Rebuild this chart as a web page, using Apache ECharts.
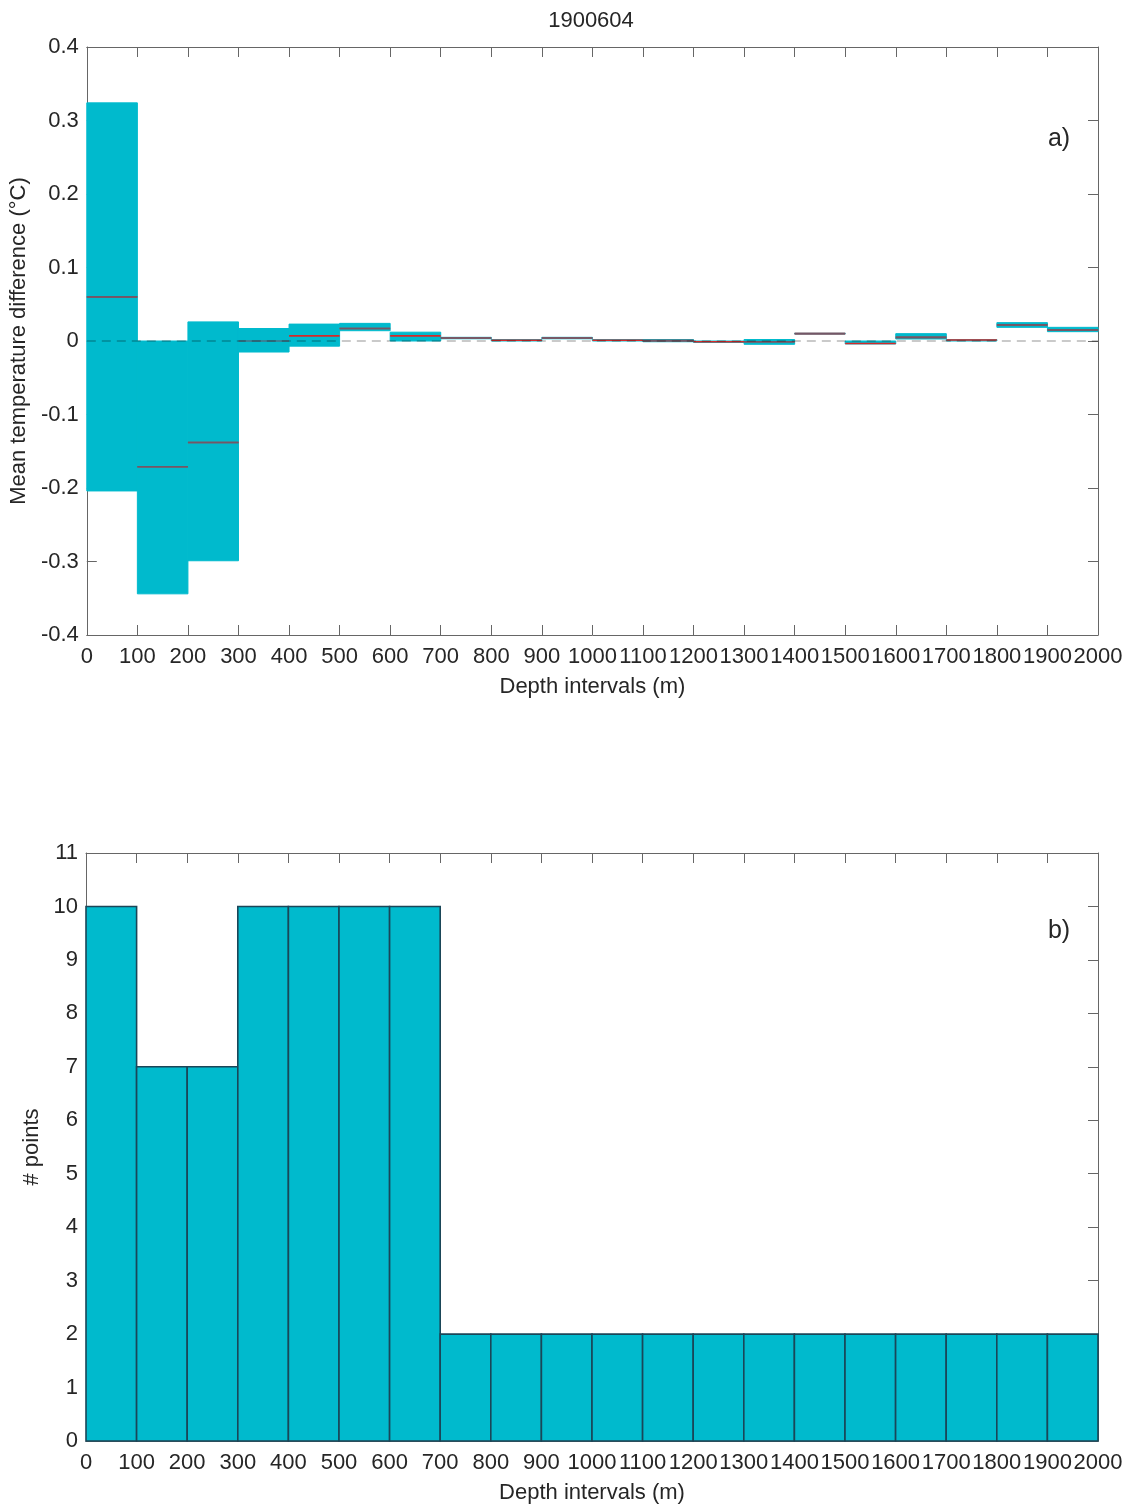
<!DOCTYPE html>
<html>
<head>
<meta charset="utf-8">
<title>1900604</title>
<script src="https://cdn.jsdelivr.net/npm/echarts@6/dist/echarts.min.js"></script>
<style>
  html, body { margin: 0; padding: 0; background: #fff; }
  #chart { width: 1132px; height: 1505px; }
</style>
</head>
<body>
<div id="chart"></div>
<script>
// Depth bin edges (m)
const depthEdges = [0, 100, 200, 300, 400, 500, 600, 700, 800, 900, 1000,
                    1100, 1200, 1300, 1400, 1500, 1600, 1700, 1800, 1900, 2000];

// Temperature difference per depth bin (°C): band bottom / top
const diffLow  = [-0.204, -0.344, -0.299, -0.015, -0.007, 0.014, 0.000, 0.003, 0.000, 0.003,
                   0.000, -0.001, -0.002, -0.0045, 0.0095, -0.004, 0.0027, 0.000, 0.0186, 0.0127];
const diffHigh = [ 0.324,  0.000,  0.026,  0.017,  0.023, 0.024, 0.012, 0.005, 0.002, 0.005,
                   0.002,  0.002,  0.000,  0.002,  0.0105, 0.000, 0.010, 0.002, 0.025, 0.0186];
// Mean difference (red) and median difference (dark) per bin
const diffMean   = [0.060, -0.171, -0.138, null, 0.007, 0.017, 0.007, 0.004, 0.001, 0.004,
                    0.001, 0.0005, -0.001, -0.001, 0.010, -0.0035, 0.005, 0.0013, 0.022, 0.015];
const diffMedian = [0.060, -0.171, -0.138, 0.000, null, 0.017, null, 0.004, null, 0.004,
                    null, 0.0005, null, -0.001, 0.010, null, 0.005, null, 0.022, 0.015];

// Number of points per depth bin
const pointCounts = [10, 7, 7, 10, 10, 10, 10, 2, 2, 2, 2, 2, 2, 2, 2, 2, 2, 2, 2, 2];

const FONT = '"Liberation Sans", Arial, sans-serif';
const TXT = '#262626';
const AX = '#666666';
const CYAN = '#00BACD';

const bandData = diffLow.map((lo, i) => [depthEdges[i], depthEdges[i + 1], lo, diffHigh[i]]);
const meanData = diffMean.map((m, i) => [depthEdges[i], depthEdges[i + 1], m])
                         .filter(d => d[2] !== null);
const medianData = diffMedian.map((m, i) => [depthEdges[i], depthEdges[i + 1], m])
                             .filter(d => d[2] !== null);
const countData = pointCounts.map((c, i) => [depthEdges[i], depthEdges[i + 1], 0, c]);

function rectItem(fill, stroke, lw) {
  return function (params, api) {
    const p0 = api.coord([api.value(0), api.value(3)]);
    const p1 = api.coord([api.value(1), api.value(2)]);
    return {
      type: 'rect',
      shape: { x: p0[0], y: p0[1], width: p1[0] - p0[0], height: p1[1] - p0[1] },
      style: { fill: fill, stroke: stroke, lineWidth: lw }
    };
  };
}

function segItem(color, lw, opacity) {
  return function (params, api) {
    const p0 = api.coord([api.value(0), api.value(2)]);
    const p1 = api.coord([api.value(1), api.value(2)]);
    return {
      type: 'line',
      shape: { x1: p0[0], y1: p0[1], x2: p1[0], y2: p1[1] },
      style: { stroke: color, lineWidth: lw, opacity: opacity }
    };
  };
}

function xAxisMain(gridIndex) {
  return {
    gridIndex: gridIndex, type: 'value', min: 0, max: 2000, interval: 100, position: 'bottom',
    axisLine: { show: true, onZero: false, lineStyle: { color: AX, width: 1 } },
    axisTick: { show: true, inside: true, length: 10, lineStyle: { color: AX } },
    axisLabel: {
      color: TXT, fontSize: 22, fontFamily: FONT, margin: 11,
      showMinLabel: true, showMaxLabel: true, hideOverlap: false,
      formatter: v => String(Math.round(v))
    },
    splitLine: { show: false },
    name: 'Depth intervals (m)', nameLocation: 'middle', nameGap: 41,
    nameTextStyle: { color: TXT, fontSize: 22, fontFamily: FONT }
  };
}
function xAxisTop(gridIndex) {
  return {
    gridIndex: gridIndex, type: 'value', min: 0, max: 2000, interval: 100, position: 'top',
    axisLine: { show: true, onZero: false, lineStyle: { color: AX, width: 1 } },
    axisTick: { show: true, inside: true, length: 10, lineStyle: { color: AX } },
    axisLabel: { show: false }, splitLine: { show: false }
  };
}
function yAxisRight(gridIndex, min, max, interval) {
  return {
    gridIndex: gridIndex, type: 'value', min: min, max: max, interval: interval, position: 'right',
    axisLine: { show: true, onZero: false, lineStyle: { color: AX, width: 1 } },
    axisTick: { show: true, inside: true, length: 10, lineStyle: { color: AX } },
    axisLabel: { show: false }, splitLine: { show: false }
  };
}

const option = {
  animation: false,
  backgroundColor: '#ffffff',
  grid: [
    { left: 86, top: 47, width: 1012, height: 588 },
    { left: 86, top: 853, width: 1012, height: 588 }
  ],
  xAxis: [xAxisMain(0), xAxisTop(0), xAxisMain(1), xAxisTop(1)],
  yAxis: [
    {
      gridIndex: 0, type: 'value', min: -0.4, max: 0.4, interval: 0.1, position: 'left',
      axisLine: { show: true, onZero: false, lineStyle: { color: AX, width: 1 } },
      axisTick: { show: true, inside: true, length: 10, lineStyle: { color: AX } },
      axisLabel: {
        color: TXT, fontSize: 22, fontFamily: FONT, margin: 8,
        showMinLabel: true, showMaxLabel: true,
        formatter: v => { const r = Math.round(v * 10) / 10; return r === 0 ? '0' : r.toFixed(1); }
      },
      splitLine: { show: false },
      name: 'Mean temperature difference (°C)', nameLocation: 'middle', nameGap: 55,
      nameTextStyle: { color: TXT, fontSize: 22, fontFamily: FONT }
    },
    yAxisRight(0, -0.4, 0.4, 0.1),
    {
      gridIndex: 1, type: 'value', min: 0, max: 11, interval: 1, position: 'left',
      axisLine: { show: true, onZero: false, lineStyle: { color: AX, width: 1 } },
      axisTick: { show: true, inside: true, length: 10, lineStyle: { color: AX } },
      axisLabel: { color: TXT, fontSize: 22, fontFamily: FONT, margin: 8, showMinLabel: true, showMaxLabel: true },
      splitLine: { show: false },
      name: '# points', nameLocation: 'middle', nameGap: 40,
      nameTextStyle: { color: TXT, fontSize: 22, fontFamily: FONT }
    },
    yAxisRight(1, 0, 11, 1)
  ],
  graphic: [
    { type: 'text', x: 591, y: 21, style: { text: '1900604', font: '22px ' + FONT, fill: TXT, align: 'center', verticalAlign: 'middle' } },
    { type: 'text', x: 1059, y: 139, style: { text: 'a)', font: '25px ' + FONT, fill: TXT, align: 'center', verticalAlign: 'middle' } },
    { type: 'text', x: 1059, y: 931, style: { text: 'b)', font: '25px ' + FONT, fill: TXT, align: 'center', verticalAlign: 'middle' } }
  ],
  series: [
    {
      type: 'custom', name: 'band', xAxisIndex: 0, yAxisIndex: 0, z: 2,
      encode: { x: [0, 1], y: [2, 3] },
      renderItem: rectItem(CYAN, CYAN, 1),
      data: bandData
    },
    {
      type: 'custom', name: 'mean', xAxisIndex: 0, yAxisIndex: 0, z: 3,
      encode: { x: [0, 1], y: 2 },
      renderItem: segItem('#d42a2a', 1.6, 1),
      data: meanData
    },
    {
      type: 'custom', name: 'median', xAxisIndex: 0, yAxisIndex: 0, z: 4,
      encode: { x: [0, 1], y: 2 },
      renderItem: segItem('#5b6276', 1.6, 0.8),
      data: medianData
    },
    {
      type: 'line', name: 'zero', xAxisIndex: 0, yAxisIndex: 0, z: 6,
      symbol: 'none', silent: true,
      lineStyle: { color: 'rgba(0,0,0,0.28)', width: 1.6, type: [9, 6] },
      data: [[0, 0], [2000, 0]]
    },
    {
      type: 'custom', name: 'count', xAxisIndex: 2, yAxisIndex: 2, z: 2,
      encode: { x: [0, 1], y: [2, 3] },
      renderItem: rectItem(CYAN, '#1a4658', 1.6),
      data: countData
    }
  ]
};

const chart = echarts.init(document.getElementById('chart'), null, { renderer: 'canvas' });
chart.setOption(option);
</script>
</body>
</html>
